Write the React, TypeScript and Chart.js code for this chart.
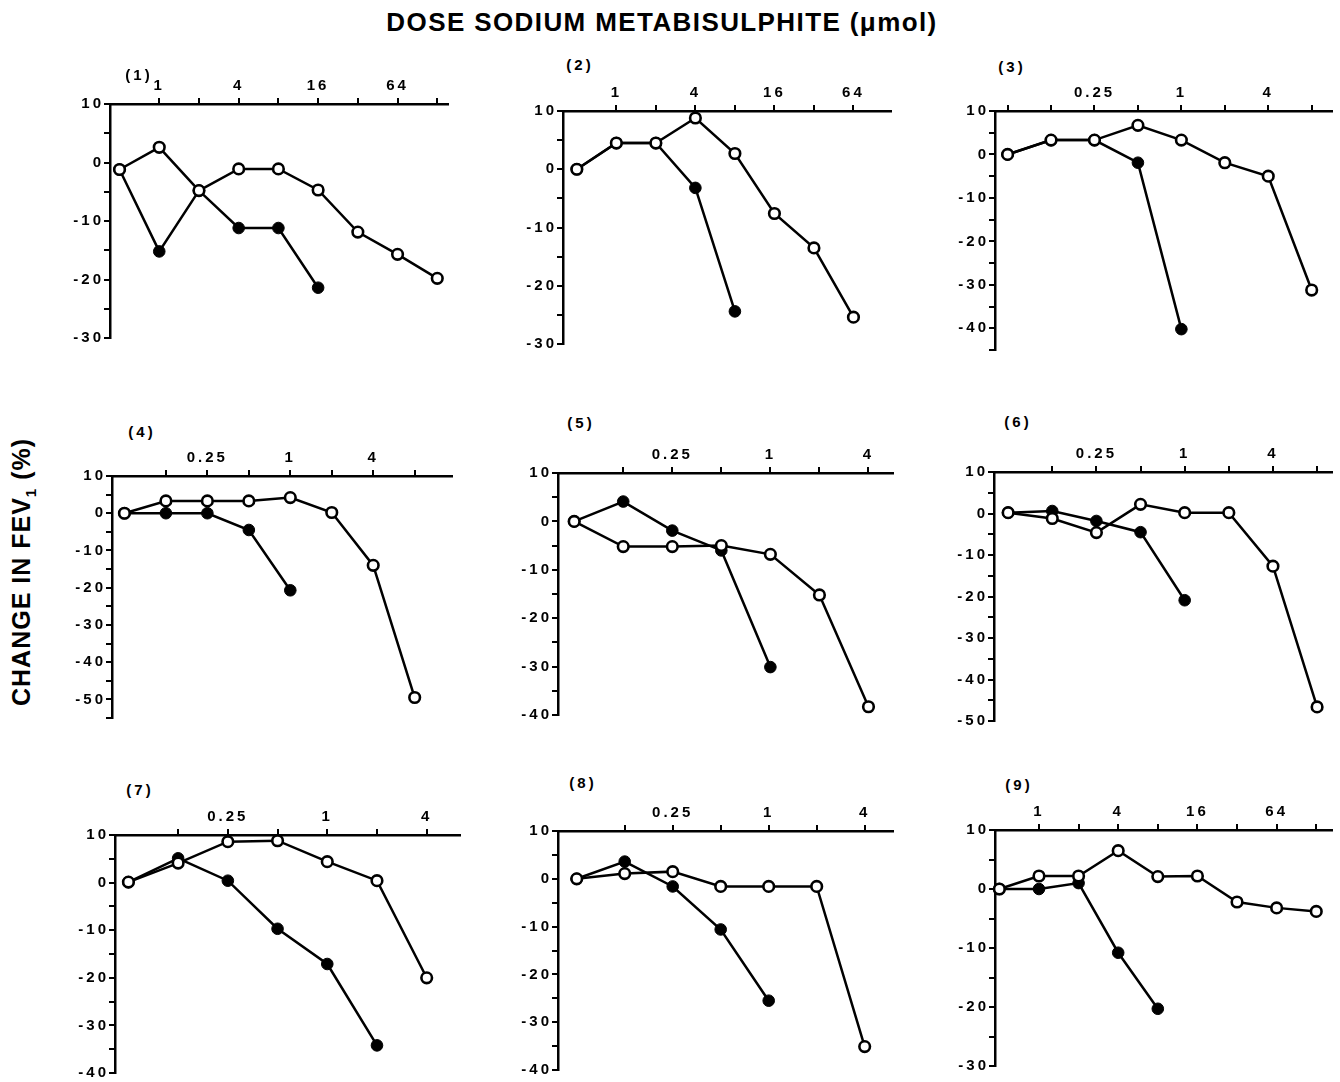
import React, { useEffect, useRef } from 'react';
import { Chart, registerables } from 'chart.js';

Chart.register(...registerables);

// Dose tick labels (index = dose step; index 0 = baseline)
const doseLabelsHigh = ['', '1', '', '4', '', '16', '', '64', ''];
const doseLabelsLow = ['', '', '0.25', '', '1', '', '4', ''];

// Change in FEV1 (%) — open = one challenge, filled = other challenge
const p1Open = [-1.2, 2.6, -4.8, -1.1, -1.1, -4.7, -11.9, -15.7, -19.8];
const p1Filled = [-1.2, -15.2, -4.8, -11.2, -11.2, -21.4];
const p2Open = [0, 4.5, 4.5, 8.8, 2.7, -7.6, -13.5, -25.4];
const p2Filled = [0, 4.5, 4.5, -3.2, -24.4];
const p3Open = [0, 3.3, 3.3, 6.7, 3.3, -1.9, -5, -31.2];
const p3Filled = [0, 3.3, 3.3, -1.9, -40.2];
const p4Open = [0, 3.3, 3.3, 3.3, 4.2, 0.2, -14, -49.5];
const p4Filled = [0, 0, 0, -4.5, -20.7];
const p5Open = [0, -5.2, -5.2, -5, -6.8, -15.2, -38.3];
const p5Filled = [0, 4.1, -1.9, -6, -30.1];
const p6Open = [0.2, -1.2, -4.6, 2.2, 0.2, 0.2, -12.7, -46.6];
const p6Filled = [0.2, 0.6, -1.8, -4.5, -20.9];
const p7Open = [0.1, 4.1, 8.6, 8.8, 4.4, 0.4, -20];
const p7Filled = [0.1, 5.1, 0.4, -9.7, -17.1, -34.2];
const p8Open = [0, 1.1, 1.5, -1.6, -1.6, -1.6, -35.1];
const p8Filled = [0, 3.6, -1.6, -10.6, -25.5];
const p9Open = [0, 2.2, 2.2, 6.5, 2.1, 2.2, -2.2, -3.2, -3.8];
const p9Filled = [0, 0, 1, -10.8, -20.3];

type PanelCfg = {
  name: string;
  open: number[];
  filled: number[];
  labels: string[];
  tickIdx: number[];
  yMin: number;
  yMax: number;
  xMin: number;
  xMax: number;
  area: { l: number; t: number; r: number; b: number };
  tag: { x: number; y: number };
};

const range = (a: number, b: number) => {
  const out: number[] = [];
  for (let i = a; i <= b; i++) out.push(i);
  return out;
};

const panels: PanelCfg[] = [
  { name: '1', open: p1Open, filled: p1Filled, labels: doseLabelsHigh, tickIdx: range(1, 8), yMin: -30, yMax: 10, xMin: -0.24, xMax: 8.27, area: { l: 110, t: 104, r: 448, b: 338 }, tag: { x: 139, y: 75 } },
  { name: '2', open: p2Open, filled: p2Filled, labels: doseLabelsHigh, tickIdx: range(1, 7), yMin: -30, yMax: 10, xMin: -0.35, xMax: 7.95, area: { l: 563, t: 111, r: 891, b: 344 }, tag: { x: 580, y: 65 } },
  { name: '3', open: p3Open, filled: p3Filled, labels: doseLabelsLow, tickIdx: range(0, 7), yMin: -45, yMax: 10, xMin: -0.29, xMax: 7.47, area: { l: 995, t: 111, r: 1338, b: 350 }, tag: { x: 1012, y: 67 } },
  { name: '4', open: p4Open, filled: p4Filled, labels: doseLabelsLow, tickIdx: range(1, 7), yMin: -55, yMax: 10, xMin: -0.3, xMax: 7.9, area: { l: 112, t: 476, r: 452, b: 718 }, tag: { x: 142, y: 432 } },
  { name: '5', open: p5Open, filled: p5Filled, labels: doseLabelsLow, tickIdx: range(1, 6), yMin: -40, yMax: 10, xMin: -0.33, xMax: 6.5, area: { l: 558, t: 473, r: 893, b: 715 }, tag: { x: 581, y: 423 } },
  { name: '6', open: p6Open, filled: p6Filled, labels: doseLabelsLow, tickIdx: range(1, 7), yMin: -50, yMax: 10, xMin: -0.32, xMax: 7.34, area: { l: 994, t: 472, r: 1338, b: 721 }, tag: { x: 1018, y: 422 } },
  { name: '7', open: p7Open, filled: p7Filled, labels: doseLabelsLow, tickIdx: range(1, 6), yMin: -40, yMax: 10, xMin: -0.27, xMax: 6.67, area: { l: 115, t: 835, r: 460, b: 1073 }, tag: { x: 140, y: 790 } },
  { name: '8', open: p8Open, filled: p8Filled, labels: doseLabelsLow, tickIdx: range(1, 6), yMin: -40, yMax: 10, xMin: -0.39, xMax: 6.59, area: { l: 558, t: 831, r: 893, b: 1070 }, tag: { x: 583, y: 783 } },
  { name: '9', open: p9Open, filled: p9Filled, labels: doseLabelsHigh, tickIdx: range(1, 8), yMin: -30, yMax: 10, xMin: -0.11, xMax: 8.4, area: { l: 995, t: 830, r: 1338, b: 1066 }, tag: { x: 1019, y: 785 } },
];

const FONT = '"Liberation Sans", Arial, Helvetica, sans-serif';
const YW = 60;
const XH = 34;

const spacingPlugin = {
  id: 'labelSpacing',
  beforeDraw(chart: any) {
    try {
      chart.ctx.letterSpacing = '3px';
    } catch (e) {
      /* ignore */
    }
  },
};

function Panel({ cfg }: { cfg: PanelCfg }) {
  const ref = useRef<HTMLCanvasElement | null>(null);
  const padR = Math.max(0, Math.min(10, 1340 - cfg.area.r));
  const padB = Math.max(0, Math.min(10, 1082 - cfg.area.b));
  const width = cfg.area.r - cfg.area.l + YW + padR;
  const height = cfg.area.b - cfg.area.t + XH + padB;

  useEffect(() => {
    if (!ref.current) return;
    const tickFont = { family: FONT, size: 15, weight: 'bold' as const };
    const grid = {
      display: true,
      drawOnChartArea: false,
      drawTicks: true,
      tickLength: 6,
      color: '#000',
      lineWidth: 2,
    };
    const border = { display: true, color: '#000', width: 2.5 };
    const chart = new Chart(ref.current, {
      type: 'line',
      data: {
        datasets: [
          {
            data: cfg.open.map((v, i) => ({ x: i, y: v })),
            borderColor: '#000',
            borderWidth: 2.5,
            pointRadius: 5.3,
            pointBorderWidth: 2.6,
            pointBackgroundColor: '#fff',
            pointBorderColor: '#000',
            clip: false as any,
            order: 0,
          },
          {
            data: cfg.filled.map((v, i) => ({ x: i, y: v })),
            borderColor: '#000',
            borderWidth: 2.5,
            pointRadius: 5.8,
            pointBorderWidth: 1,
            pointBackgroundColor: '#000',
            pointBorderColor: '#000',
            clip: false as any,
            order: 1,
          },
        ],
      },
      plugins: [spacingPlugin],
      options: {
        animation: false,
        responsive: false,
        events: [],
        layout: { padding: { left: 0, top: 0, right: padR, bottom: padB } },
        plugins: { legend: { display: false }, tooltip: { enabled: false }, title: { display: false } },
        scales: {
          x: {
            type: 'linear',
            position: 'top',
            min: cfg.xMin,
            max: cfg.xMax,
            afterBuildTicks: (s: any) => {
              s.ticks = cfg.tickIdx.map((v) => ({ value: v }));
            },
            afterFit: (s: any) => {
              s.height = XH;
            },
            ticks: {
              autoSkip: false,
              maxRotation: 0,
              padding: 3,
              color: '#000',
              font: tickFont,
              callback: (v: any) => cfg.labels[Math.round(Number(v))] ?? '',
            },
            grid,
            border,
          },
          y: {
            type: 'linear',
            min: cfg.yMin,
            max: cfg.yMax,
            afterFit: (s: any) => {
              s.width = YW;
            },
            ticks: {
              stepSize: 5,
              autoSkip: false,
              padding: 0,
              color: '#000',
              font: tickFont,
              callback: (v: any) => (Number(v) % 10 === 0 ? String(v) : ''),
            },
            grid,
            border,
          },
        },
      },
    } as any);
    return () => chart.destroy();
  }, []);

  return (
    <>
      <canvas
        ref={ref}
        width={width}
        height={height}
        style={{ position: 'absolute', left: cfg.area.l - YW, top: cfg.area.t - XH, width, height }}
      />
      <div
        style={{
          position: 'absolute',
          left: cfg.tag.x - 30,
          top: cfg.tag.y - 9,
          width: 60,
          textAlign: 'center',
          fontFamily: FONT,
          fontWeight: 'bold',
          fontSize: 15,
          letterSpacing: 3,
          lineHeight: '18px',
          color: '#000',
        }}
      >
        ({cfg.name})
      </div>
    </>
  );
}

export default function App() {
  return (
    <div
      style={{
        position: 'absolute',
        left: 0,
        top: 0,
        width: 1340,
        height: 1082,
        overflow: 'hidden',
        background: '#fff',
      }}
    >
      <div
        style={{
          position: 'absolute',
          left: 0,
          top: 6,
          width: 1324,
          textAlign: 'center',
          fontFamily: FONT,
          fontWeight: 'bold',
          fontSize: 26,
          letterSpacing: 1.4,
          lineHeight: '32px',
          color: '#000',
        }}
      >
        DOSE SODIUM METABISULPHITE (μmol)
      </div>
      <div
        style={{
          position: 'absolute',
          left: 26,
          top: 572,
          transform: 'translate(-50%, -50%) rotate(-90deg)',
          whiteSpace: 'nowrap',
          fontFamily: FONT,
          fontWeight: 'bold',
          fontSize: 25,
          letterSpacing: 1,
          lineHeight: '30px',
          color: '#000',
        }}
      >
        CHANGE IN FEV<sub style={{ fontSize: 15 }}>1</sub> (%)
      </div>
      {panels.map((p) => (
        <Panel key={p.name} cfg={p} />
      ))}
    </div>
  );
}
